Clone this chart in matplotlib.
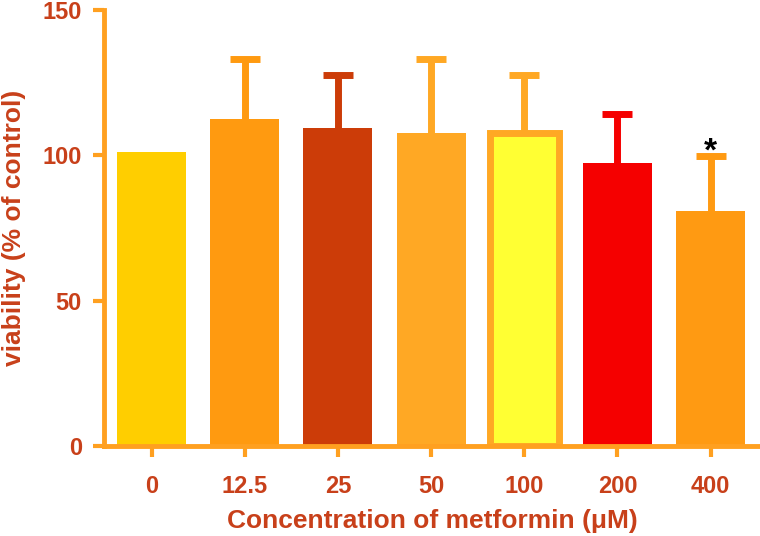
import matplotlib
matplotlib.use("Agg")
import matplotlib.pyplot as plt

categories = ["0", "12.5", "25", "50", "100", "200", "400"]
means = [101.0, 112.5, 109.3, 107.8, 107.8, 97.3, 81.0]
upper_err = [0.0, 20.8, 18.3, 25.3, 19.8, 16.8, 18.9]
face_colors = ["#FFCE00", "#FF9A10", "#CC3C08", "#FFA824", "#FFFF33", "#F50000", "#FF9A12"]
edge_colors = ["#FFCE00", "#FF9A10", "#CC3C08", "#FFA824", "#FFA824", "#F50000", "#FF9A12"]
yticks = [0, 50, 100, 150]

label_color = "#C8401A"
axis_color = "#FFA020"
font = ["Liberation Sans", "DejaVu Sans"]

fig = plt.figure(figsize=(7.6, 5.36), dpi=100)
ax = fig.add_axes([104 / 760, 90 / 536, 656 / 760, 436 / 536])

x = list(range(len(categories)))
for i in x:
    lw = 5 if edge_colors[i] != face_colors[i] else 0
    ax.bar(i, means[i], width=0.74, color=face_colors[i], edgecolor=edge_colors[i],
           linewidth=lw, zorder=2)
    if upper_err[i] > 0:
        _, caps, _ = ax.errorbar(i, means[i], yerr=[[0], [upper_err[i]]], fmt="none",
                                 ecolor=edge_colors[i], elinewidth=5, capsize=11,
                                 capthick=5, zorder=1)
        for c in caps:
            if abs(c.get_ydata()[0] - means[i]) < 1e-6:
                c.set_visible(False)

# significance marker
ax.text(6, means[6] + upper_err[6] - 1.6, "*", ha="center", va="baseline",
        fontsize=24, fontweight="bold", color="black", family=font)

ax.set_xlim(-0.51, 6.53)
ax.set_ylim(0, 150)
ax.set_xticks(x)
ax.set_xticklabels(categories)
ax.set_yticks(yticks)

for s in ["top", "right"]:
    ax.spines[s].set_visible(False)
for s in ["left", "bottom"]:
    ax.spines[s].set_color(axis_color)
    ax.spines[s].set_linewidth(3.5)
    ax.spines[s].set_capstyle("projecting")

ax.tick_params(axis="both", colors=axis_color, width=3, length=8, direction="out")
ax.tick_params(axis="x", pad=13)
ax.tick_params(axis="y", pad=8)
for lab in ax.get_xticklabels() + ax.get_yticklabels():
    lab.set_color(label_color)
    lab.set_fontsize(17)
    lab.set_fontweight("bold")
    lab.set_family(font)

ax.set_xlabel("Concentration of metformin (μM)", color=label_color, fontsize=19,
              fontweight="bold", family=font, labelpad=8)
ax.set_ylabel("viability (% of control)", color=label_color, fontsize=19,
              fontweight="bold", family=font, labelpad=12)

fig.savefig("out.png", dpi=100)
